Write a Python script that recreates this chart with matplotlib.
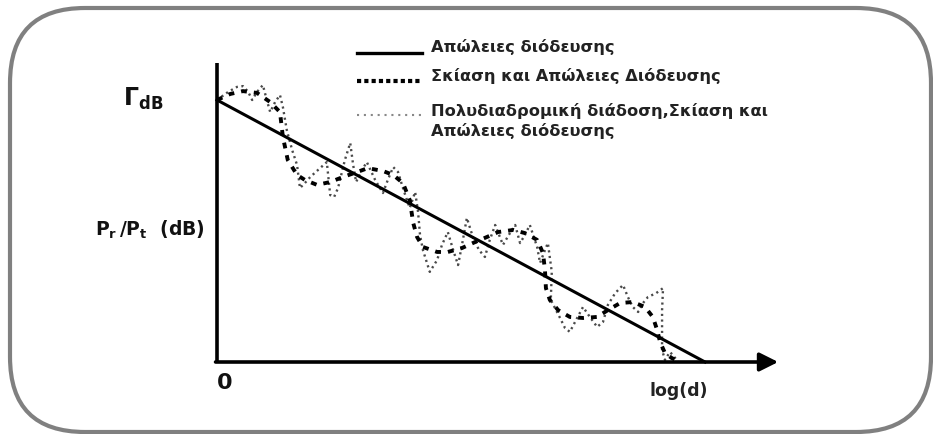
import matplotlib as mpl

mpl.use('agg')

import matplotlib.pyplot as plt
from matplotlib.lines import Line2D
from matplotlib.patches import FancyBboxPatch
from matplotlib.transforms import IdentityTransform

plt.rcParams['font.family'] = ['DejaVu Sans']
plt.rcParams['mathtext.fontset'] = 'dejavusans'
plt.rcParams['mathtext.default'] = 'bf'

# ---- data: received power vs log distance (arbitrary units) ----
path_loss_x = [0.0, 10.0]
path_loss_y = [10.0, 0.0]

shadow_x = [0.00, 0.27, 0.53, 0.82, 1.09, 1.29, 1.35, 1.45, 1.64, 1.80,
            2.05, 2.32, 2.58, 2.87, 3.09, 3.40, 3.61, 3.81, 3.95, 4.02,
            4.10, 4.22, 4.51, 4.73, 5.02, 5.29, 5.53, 5.76, 6.07, 6.31,
            6.56, 6.68, 6.72, 6.74, 6.82, 6.99, 7.23, 7.50, 7.79, 8.01,
            8.26, 8.52, 8.77, 8.93, 9.02, 9.08, 9.18, 9.32, 9.49]
shadow_y = [10.00, 10.23, 10.34, 10.27, 9.92, 9.54, 8.59, 7.71, 7.14, 6.95,
            6.76, 6.87, 7.06, 7.25, 7.40, 7.29, 7.14, 6.83, 6.18, 5.31,
            4.77, 4.39, 4.20, 4.20, 4.35, 4.58, 4.77, 4.96, 5.04, 4.92,
            4.66, 4.16, 3.51, 2.82, 2.37, 1.98, 1.72, 1.68, 1.72, 1.98,
            2.25, 2.29, 2.10, 1.72, 1.22, 0.76, 0.34, 0.15, 0.00]

multipath_x = [0.00, 0.23, 0.41, 0.53, 0.64, 0.72, 0.82, 0.94, 1.02, 1.09,
               1.19, 1.29, 1.35, 1.43, 1.54, 1.64, 1.70, 1.80, 1.91, 2.07,
               2.25, 2.32, 2.40, 2.48, 2.62, 2.73, 2.79, 2.85, 2.97, 3.07,
               3.24, 3.40, 3.50, 3.61, 3.71, 3.79, 3.87, 3.95, 4.06, 4.12,
               4.16, 4.22, 4.36, 4.51, 4.61, 4.73, 4.84, 4.94, 5.02, 5.12,
               5.25, 5.37, 5.49, 5.59, 5.70, 5.86, 5.98, 6.11, 6.21, 6.31,
               6.41, 6.56, 6.62, 6.72, 6.78, 6.86, 6.84, 7.03, 7.13, 7.23,
               7.38, 7.50, 7.64, 7.79, 7.91, 8.01, 8.16, 8.32, 8.42, 8.52,
               8.63, 8.73, 8.83, 9.00, 9.14, 9.12, 9.12, 9.12, 9.18, 9.28,
               9.34, 9.45]
multipath_y = [10.00, 10.31, 10.50, 10.53, 10.31, 10.00, 10.31, 10.57, 10.00, 9.54,
               9.92, 10.19, 9.73, 8.85, 8.09, 7.52, 6.64, 6.83, 7.06, 7.33,
               7.63, 6.37, 6.30, 6.64, 7.71, 8.36, 7.52, 6.87, 7.33, 7.63,
               6.95, 6.45, 6.95, 7.44, 7.25, 6.76, 6.30, 5.88, 6.49, 5.73,
               4.85, 4.27, 3.44, 3.89, 4.47, 4.96, 4.27, 3.70, 4.47, 5.50,
               4.73, 4.27, 4.01, 4.66, 5.23, 4.47, 4.85, 5.23, 4.54, 4.85,
               5.23, 4.39, 3.78, 4.27, 4.54, 3.44, 2.37, 1.68, 1.30, 1.15,
               1.68, 2.10, 1.72, 1.34, 1.53, 2.18, 2.63, 2.94, 2.48, 2.10,
               1.91, 2.25, 2.48, 2.63, 2.82, 1.98, 1.22, 0.46, 0.08, 0.38,
               0.27, 0.00]

labels = ['Απώλειες διόδευσης',
          'Σκίαση και Απώλειες Διόδευσης',
          'Πολυδιαδρομική διάδοση,Σκίαση και\nΑπώλειες διόδευσης']

W, H = 933, 434


def fx(px):
    return px / W


def fy(py):
    return 1 - py / H


fig = plt.figure(figsize=(W / 100, H / 100), dpi=100)
ax = fig.add_axes([0, 0, 1, 1])
ax.set_xlim(-4.447, 14.672)
ax.set_ylim(-2.748, 13.817)
ax.axis('off')

# rounded frame around the whole drawing
frame = FancyBboxPatch((10, 2), 921, 424, boxstyle='round,pad=0,rounding_size=75',
                       transform=IdentityTransform(), fill=False,
                       edgecolor='#808080', linewidth=3)
fig.add_artist(frame)

# axes with arrow
ax.plot([0, 0], [0, 11.41], color='black', lw=2.6, solid_capstyle='butt')
ax.annotate('', xy=(11.5, 0), xytext=(-0.03, 0),
            arrowprops=dict(arrowstyle='-|>', color='black', lw=2.6,
                            mutation_scale=28, shrinkA=0, shrinkB=0))

# curves
ax.plot(multipath_x, multipath_y, color='#4a4a4a', lw=1.7, linestyle=(0, (0.9, 1.5)))
ax.plot(shadow_x, shadow_y, color='black', lw=2.8, linestyle=(0, (1.5, 1.8)))
ax.plot(path_loss_x, path_loss_y, color='black', lw=2.2)

# legend drawn by hand
fig.add_artist(Line2D([fx(357), fx(422)], [fy(52.5), fy(52.5)],
                      transform=fig.transFigure, color='black', lw=2.4))
fig.add_artist(Line2D([fx(357), fx(422)], [fy(81), fy(81)],
                      transform=fig.transFigure, color='black', lw=3,
                      linestyle=(0, (1.0, 0.75))))
fig.add_artist(Line2D([fx(357), fx(422)], [fy(115), fy(115)],
                      transform=fig.transFigure, color='#888888', lw=1.5,
                      linestyle=(0, (1, 2.3))))
fig.text(fx(431), fy(47), labels[0], fontsize=11.7, fontweight='bold',
         va='center', ha='left', color='#222222')
fig.text(fx(431), fy(76), labels[1], fontsize=11.7, fontweight='bold',
         va='center', ha='left', color='#222222')
fig.text(fx(431), fy(121), labels[2], fontsize=11.7, fontweight='bold',
         va='center', ha='left', color='#222222', linespacing=1.3)

# axis annotations
fig.text(fx(123), fy(106), r'$\Gamma_{dB}$', fontsize=17, ha='left',
         va='baseline', color='#111111')
fig.text(fx(95), fy(236), r'$P_r\,/P_t$  (dB)', fontsize=13.5, fontweight='bold',
         ha='left', va='baseline', color='#111111')
fig.text(fx(225), fy(383), '0', fontsize=16, fontweight='bold',
         ha='center', va='center', color='#111111')
fig.text(fx(679), fy(391), 'log(d)', fontsize=12.5, fontweight='bold',
         ha='center', va='center', color='#222222')

fig.savefig('out.png', dpi=100, facecolor='white')
